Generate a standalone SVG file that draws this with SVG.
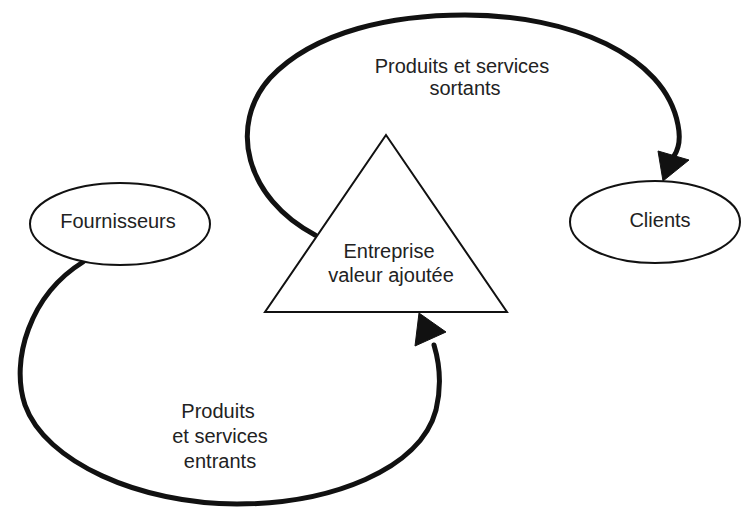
<svg xmlns="http://www.w3.org/2000/svg" width="742" height="509" viewBox="0 0 742 509">
<style>
.shape{fill:#fff;stroke:#111;stroke-width:2}
.flow{fill:none;stroke:#111;stroke-width:5;stroke-linecap:round}
.head{fill:#111;stroke:#111;stroke-width:1;stroke-linejoin:round}
text{font-family:"Liberation Sans",Arial,Helvetica,sans-serif;font-size:20px;fill:#222;text-anchor:middle}
</style>
<rect width="742" height="509" fill="#fff"/>
<g id="connectors">
<path class="flow" d="M315,235 C245,198 228,125 270,78 C315,30 395,15 465,15 C570,15 665,55 678,125 C681,140 678,150 674,156"/>
<polygon class="head" points="663,181 658,151 689,160"/>
<path class="flow" d="M83,262 C30,295 10,360 25,405 C45,462 140,504 237,504 C330,504 420,470 436,410 C442,385 440,365 434,345"/>
<polygon class="head" points="419,313 415,346 446,332"/>
</g>
<g id="fournisseurs">
<ellipse class="shape" cx="120" cy="224" rx="90" ry="41"/>
<text x="118" y="228">Fournisseurs</text>
</g>
<g id="clients">
<ellipse class="shape" cx="655" cy="222" rx="85" ry="41"/>
<text x="660" y="227">Clients</text>
</g>
<g id="entreprise">
<polygon class="shape" points="386,135 507,312 265,312"/>
<text x="389" y="258">Entreprise</text>
<text x="391" y="282">valeur ajoutée</text>
</g>
<g id="labels">
<text x="462" y="73">Produits et services</text>
<text x="465" y="95">sortants</text>
<text x="218" y="418">Produits</text>
<text x="220" y="443">et services</text>
<text x="220" y="468">entrants</text>
</g>
</svg>
